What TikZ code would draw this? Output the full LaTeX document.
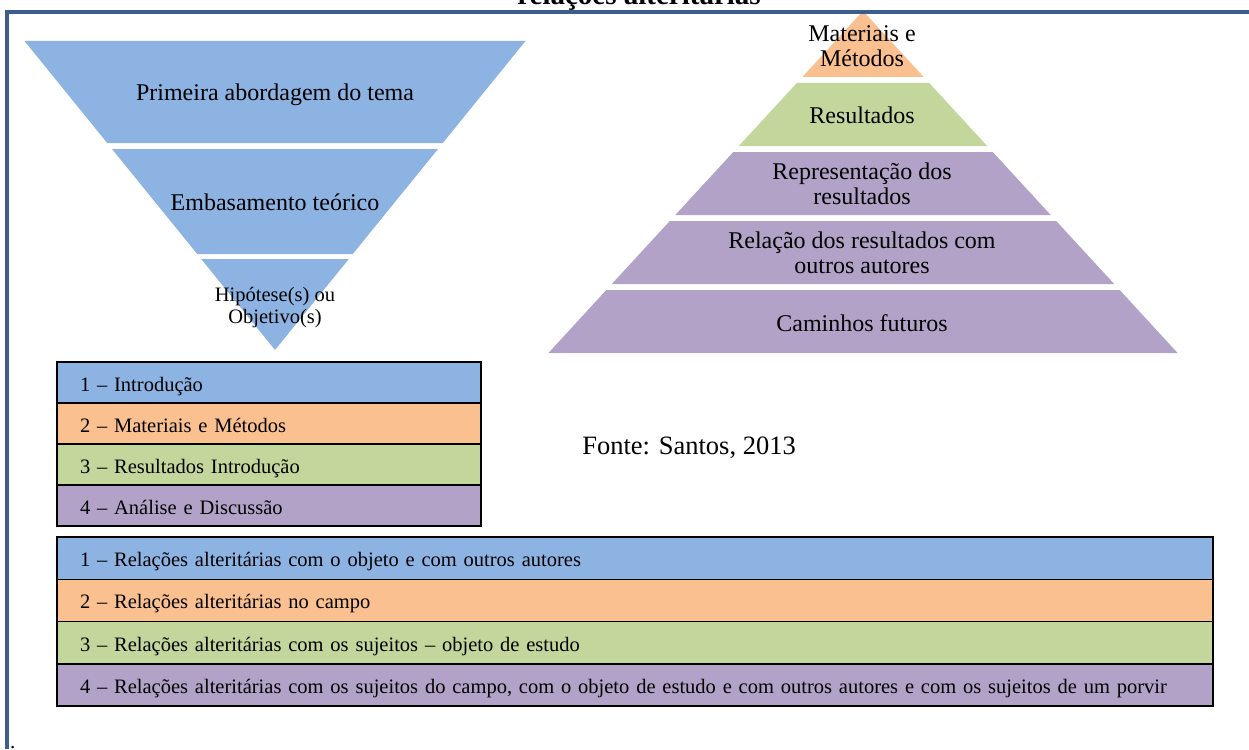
\documentclass[tikz,border=0pt]{standalone}
\usepackage{fontspec}
\setmainfont{Liberation Serif}
\usetikzlibrary{positioning}

\definecolor{blueF}{HTML}{8DB3E2}
\definecolor{orangeF}{HTML}{FAC090}
\definecolor{greenF}{HTML}{C3D69B}
\definecolor{purpleF}{HTML}{B2A2C7}
\definecolor{frameBlue}{HTML}{3B5E8C}

\begin{document}
\begin{tikzpicture}[x=1pt, y=-1pt,
  lbl/.style={align=center, inner sep=0pt, font=\fontsize{24}{25}\selectfont},
  row/.style={draw=black, line width=1.5pt, rectangle, outer sep=0pt, inner ysep=0pt,
    inner xsep=23pt, minimum height=41pt, align=left, text height=19pt, text depth=2pt,
    font=\fontsize{20.5}{22}\selectfont},
  shortrow/.style={row, text width=378pt},
  longrow/.style={row, text width=1110pt, minimum height=42.25pt}]

  \useasboundingbox (0,0) rectangle (1249,749);

  % funil
  \fill[blueF] (24.5,41) -- (525.5,41) -- (442.8,143) -- (107.2,143) -- cycle;
  \fill[blueF] (112,149) -- (438,149) -- (352.8,254) -- (197.2,254) -- cycle;
  \fill[blueF] (201.2,259) -- (348.8,259) -- (275,350) -- cycle;

  \node (primeira) [lbl] at (275,95) {Primeira abordagem do tema};
  \node (embasamento) [lbl] at (275,202) {Embasamento teórico};
  \node (hipotese) [lbl, font=\fontsize{20.5}{22}\selectfont] at (275,308) {Hipótese(s) ou\\Objetivo(s)};

  % piramide
  \fill[orangeF] (863,11) -- (923.7,77) -- (802.3,77) -- cycle;
  \fill[greenF] (796.8,83) -- (929.2,83) -- (987.2,146) -- (738.8,146) -- cycle;
  \fill[purpleF] (733.3,152) -- (992.7,152) -- (1050.7,215) -- (675.3,215) -- cycle;
  \fill[purpleF] (669.8,221) -- (1056.2,221) -- (1114.2,284) -- (611.8,284) -- cycle;
  \fill[purpleF] (606.3,290) -- (1119.7,290) -- (1177.6,353) -- (548.4,353) -- cycle;

  \node (materiais) [lbl] at (862,46) {Materiais e\\Métodos};
  \node (resultados) [lbl] at (862,115) {Resultados};
  \node (representacao) [lbl] at (862,184) {Representação dos\\resultados};
  \node (relacao) [lbl] at (862,253) {Relação dos resultados com\\outros autores};
  \node (caminhos) [lbl] at (862,323) {Caminhos futuros};

  \node (fonte) [lbl, font=\fontsize{26.5}{28}\selectfont] at (689,448) {Fonte: Santos, 2013};

  % legendas
  \node (intro) [shortrow, fill=blueF, anchor=north west] at (57,362) {1 – Introdução};
  \node (metodos) [shortrow, fill=orangeF, below=0pt of intro] {2 – Materiais e Métodos};
  \node (result) [shortrow, fill=greenF, below=0pt of metodos] {3 – Resultados Introdução};
  \node (analise) [shortrow, fill=purpleF, below=0pt of result] {4 – Análise e Discussão};

  \node (rel1) [longrow, fill=blueF, anchor=north west] at (57,537) {1 – Relações alteritárias com o objeto e com outros autores};
  \node (rel2) [longrow, fill=orangeF, below=0pt of rel1] {2 – Relações alteritárias no campo};
  \node (rel3) [longrow, fill=greenF, below=0pt of rel2] {3 – Relações alteritárias com os sujeitos – objeto de estudo};
  \node (rel4) [longrow, fill=purpleF, below=0pt of rel3] {4 – Relações alteritárias com os sujeitos do campo, com o objeto de estudo e com outros autores e com os sujeitos de um porvir};

  % moldura
  \draw[frameBlue, line width=4pt] (6.5,749) -- (6.5,12) -- (1249,12);
  \node (titulo) [anchor=base, inner sep=0pt, font=\bfseries\fontsize{29}{30}\selectfont] at (639,5) {relações alteritárias};
  \node (ponto) [anchor=base west, inner sep=0pt, font=\fontsize{21}{22}\selectfont] at (10,748) {.};

\end{tikzpicture}
\end{document}
